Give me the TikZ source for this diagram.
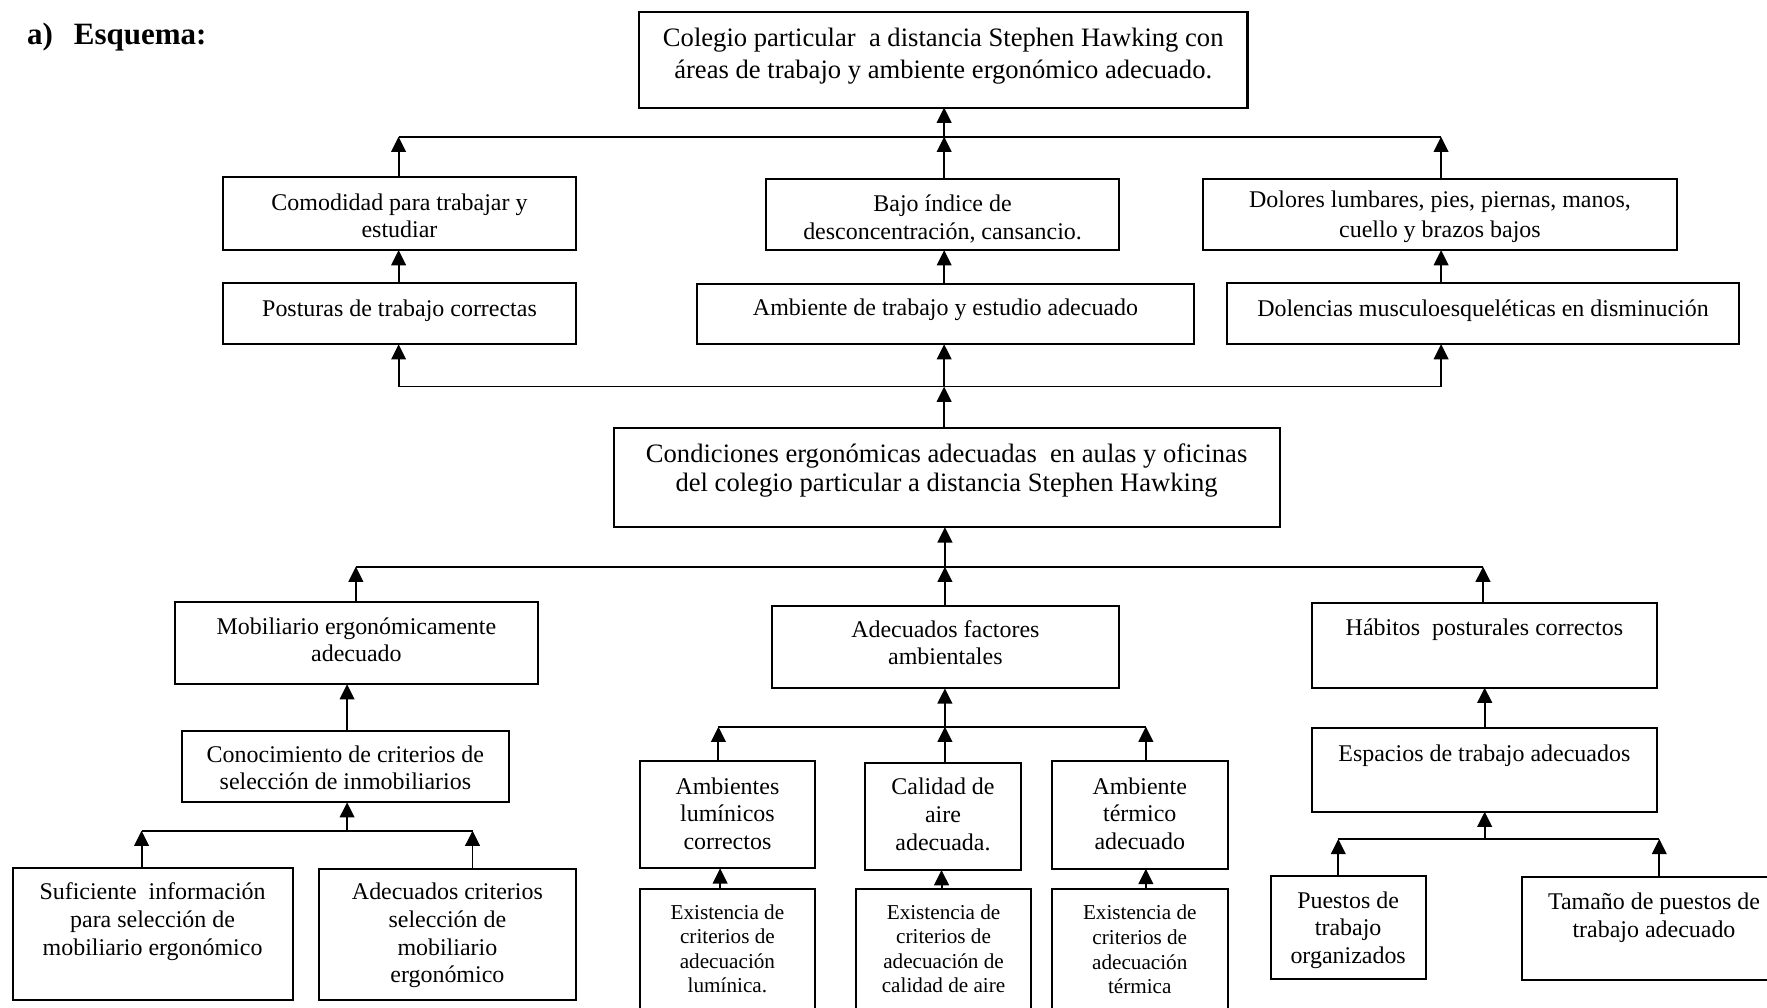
\documentclass[tikz,border=0pt]{standalone}
\usepackage{fontspec}
\setmainfont{Liberation Serif}
\usetikzlibrary{arrows.meta}
\newcommand{\bx}[2]{\makebox[0pt]{\raisebox{#1}[0pt][0pt]{\begin{tabular}[t]{@{}c@{}}#2\end{tabular}}}}
\newcommand{\fntA}{\fontsize{21.25pt}{24.5pt}\selectfont}
\newcommand{\fntT}{\fontsize{23.6pt}{28.5pt}\selectfont}
\newcommand{\fntC}{\fontsize{23.6pt}{25.5pt}\selectfont}
\newcommand{\fntS}{\fontsize{18.8pt}{21.8pt}\selectfont}
\newcommand{\fntD}{\fontsize{21.25pt}{27pt}\selectfont}
\newcommand{\fntH}{\fontsize{27.5pt}{30pt}\selectfont\bfseries}
\begin{document}
\begin{tikzpicture}[x=1pt,y=-1pt,
  box/.style={draw,line width=1.8pt,inner sep=0pt,outer sep=0pt},
  arr/.style={line width=1.7pt,-{Triangle[width=13pt,length=13.5pt]}},
  ln/.style={line width=1.7pt}]
\useasboundingbox (0,0) rectangle (1568,894);
\clip (0,0) rectangle (1568,894);

\node[anchor=base west,font=\fntH,inner sep=0pt] (head) at (23.8,39.9) {a)\hspace{18.7pt}Esquema:};

% level 1
\node[box,font=\fntT,minimum width=540pt,minimum height=85pt] (title) at (837,53)
  {\bx{12pt}{Colegio particular\ \ a distancia Stephen Hawking con\\áreas de trabajo y ambiente ergonómico adecuado.}};
% level 2
\node[box,font=\fntA,minimum width=313pt,minimum height=65pt] (como) at (354.5,189.4)
  {\bx{3pt}{Comodidad para trabajar y\\estudiar}};
\node[box,font=\fntA,minimum width=313pt,minimum height=63pt] (bajo) at (836.4,190.5)
  {\bx{2.5pt}{Bajo índice de\\desconcentración, cansancio.}};
\node[box,font=\fntD,minimum width=420pt,minimum height=63pt] (dolores) at (1277.8,190.4)
  {\bx{6.4pt}{Dolores lumbares, pies, piernas, manos,\\cuello y brazos bajos}};
% level 3
\node[box,font=\fntA,minimum width=313pt,minimum height=54pt] (post) at (354.5,278.5)
  {\bx{-2pt}{Posturas de trabajo correctas}};
\node[box,font=\fntA,minimum width=441pt,minimum height=53.5pt] (amb) at (839,278.7)
  {\bx{-1.7pt}{Ambiente de trabajo y estudio adecuado}};
\node[box,font=\fntA,minimum width=454pt,minimum height=54pt] (dolen) at (1316,278.3)
  {\bx{-2.7pt}{Dolencias musculoesqueléticas en disminución}};
% central
\node[box,font=\fntC,minimum width=591pt,minimum height=88.4pt] (cond) at (840,423.7)
  {\bx{13.5pt}{Condiciones ergonómicas adecuadas\ \ en aulas y oficinas\\del colegio particular a distancia Stephen Hawking}};
% level 4
\node[box,font=\fntA,minimum width=322pt,minimum height=73.3pt] (mob) at (316.3,570.5)
  {\bx{7.7pt}{Mobiliario ergonómicamente\\adecuado}};
\node[box,font=\fntA,minimum width=308pt,minimum height=73.4pt] (af) at (838.9,574.1)
  {\bx{8.6pt}{Adecuados factores\\ambientales}};
\node[box,font=\fntA,minimum width=305.5pt,minimum height=75.4pt] (hab) at (1317.2,572.5)
  {\bx{8.4pt}{Hábitos\ \ posturales correctos}};
% level 5
\node[box,font=\fntA,minimum width=290pt,minimum height=63.6pt] (con) at (306.5,680.1)
  {\bx{3.7pt}{Conocimiento de criterios de\\selección de inmobiliarios}};
\node[box,font=\fntA,minimum width=154.6pt,minimum height=95.3pt] (lum) at (645.5,722.9)
  {\bx{18.1pt}{Ambientes\\lumínicos\\correctos}};
\node[box,font=\fntA,minimum width=138pt,minimum height=95.3pt] (cal) at (836.8,724.4)
  {\bx{19pt}{Calidad de\\aire\\adecuada.}};
\node[box,font=\fntA,minimum width=156.6pt,minimum height=96pt] (ter) at (1011.4,723)
  {\bx{18.2pt}{Ambiente\\térmico\\adecuado}};
\node[box,font=\fntA,minimum width=305.5pt,minimum height=74pt] (esp) at (1317.2,683.3)
  {\bx{7.5pt}{Espacios de trabajo adecuados}};
% level 6
\node[box,font=\fntA,minimum width=248.4pt,minimum height=116.8pt] (suf) at (135.4,828.9)
  {\bx{30.3pt}{Suficiente\ \ información\\para selección de\\mobiliario ergonómico}};
\node[box,font=\fntA,minimum width=228.4pt,minimum height=116pt] (adc) at (397,829.4)
  {\bx{30.8pt}{Adecuados criterios\\selección de\\mobiliario\\ergonómico}};
\node[box,font=\fntS,minimum width=155pt,minimum height=121pt] (ex1) at (645.5,849.5)
  {\bx{34pt}{Existencia de\\criterios de\\adecuación\\lumínica.}};
\node[box,font=\fntS,minimum width=155.8pt,minimum height=121pt] (ex2) at (837.3,849.5)
  {\bx{34pt}{Existencia de\\criterios de\\adecuación de\\calidad de aire}};
\node[box,font=\fntS,minimum width=156.6pt,minimum height=121pt] (ex3) at (1011.4,849.5)
  {\bx{33.2pt}{Existencia de\\criterios de\\adecuación\\térmica}};
\node[box,font=\fntA,minimum width=137.4pt,minimum height=91.7pt] (pue) at (1196.3,823.2)
  {\bx{17.2pt}{Puestos de\\trabajo\\organizados}};
\node[box,font=\fntA,minimum width=234.4pt,minimum height=91pt] (tam) at (1467.7,824.1)
  {\bx{16.6pt}{Tamaño de puestos de\\trabajo adecuado}};

% junction levels and arrow columns
\coordinate (LA) at (0,121.3);
\coordinate (LB) at (0,343);
\coordinate (LC) at (0,502.8);
\coordinate (LE) at (0,644.8);
\coordinate (LD) at (0,737.1);
\coordinate (LF) at (0,744.5);
\coordinate (xL) at (353.7,0);
\coordinate (xM) at (837.8,0);
\coordinate (xR) at (1278.8,0);
\coordinate (xCL) at (315.8,0);
\coordinate (xCM) at (838.5,0);
\coordinate (xCR) at (1316,0);
\coordinate (xDc) at (308,0);
\coordinate (xD1) at (125.6,0);
\coordinate (xD2) at (419.3,0);
\coordinate (xE1) at (637.5,0);
\coordinate (xE3) at (1016.8,0);
\coordinate (xX1) at (639,0);
\coordinate (xX2) at (835.5,0);
\coordinate (xF1) at (1187.6,0);
\coordinate (xFc) at (1317.5,0);
\coordinate (xF2) at (1472.4,0);

% group A
\draw[ln] (xL |- LA) -- (xR |- LA);
\draw[arr] (xM |- LA) -- (xM |- title.south);
\draw[arr] (xL |- como.north) -- (xL |- LA);
\draw[arr] (xM |- bajo.north) -- (xM |- LA);
\draw[arr] (xR |- dolores.north) -- (xR |- LA);
\draw[arr] (xL |- post.north) -- (xL |- como.south);
\draw[arr] (xM |- amb.north) -- (xM |- bajo.south);
\draw[arr] (xR |- dolen.north) -- (xR |- dolores.south);
% group B
\draw[ln] (xL |- LB) -- (xR |- LB);
\draw[arr] (xM |- cond.north) -- (xM |- LB);
\draw[arr] (xL |- LB) -- (xL |- post.south);
\draw[arr] (xM |- LB) -- (xM |- amb.south);
\draw[arr] (xR |- LB) -- (xR |- dolen.south);
% group C
\draw[ln] (xCL |- LC) -- (xCR |- LC);
\draw[arr] (xCM |- LC) -- (xCM |- cond.south);
\draw[arr] (xCL |- mob.north) -- (xCL |- LC);
\draw[arr] (xCM |- af.north) -- (xCM |- LC);
\draw[arr] (xCR |- hab.north) -- (xCR |- LC);
% group D
\draw[arr] (xDc |- con.north) -- (xDc |- mob.south);
\draw[ln] (xD1 |- LD) -- (xD2 |- LD);
\draw[arr] (xDc |- LD) -- (xDc |- con.south);
\draw[arr] (xD1 |- suf.north) -- (xD1 |- LD);
\draw[arr] (xD2 |- adc.north) -- (xD2 |- LD);
% group E
\draw[ln] (xE1 |- LE) -- (xE3 |- LE);
\draw[arr] (xCM |- LE) -- (xCM |- af.south);
\draw[arr] (xE1 |- lum.north) -- (xE1 |- LE);
\draw[arr] (xCM |- cal.north) -- (xCM |- LE);
\draw[arr] (xE3 |- ter.north) -- (xE3 |- LE);
\draw[arr] (xX1 |- ex1.north) -- (xX1 |- lum.south);
\draw[arr] (xX2 |- ex2.north) -- (xX2 |- cal.south);
\draw[arr] (xE3 |- ex3.north) -- (xE3 |- ter.south);
% group F
\draw[arr] (xFc |- esp.north) -- (xFc |- hab.south);
\draw[ln] (xF1 |- LF) -- (xF2 |- LF);
\draw[arr] (xFc |- LF) -- (xFc |- esp.south);
\draw[arr] (xF1 |- pue.north) -- (xF1 |- LF);
\draw[arr] (xF2 |- tam.north) -- (xF2 |- LF);
\end{tikzpicture}
\end{document}
